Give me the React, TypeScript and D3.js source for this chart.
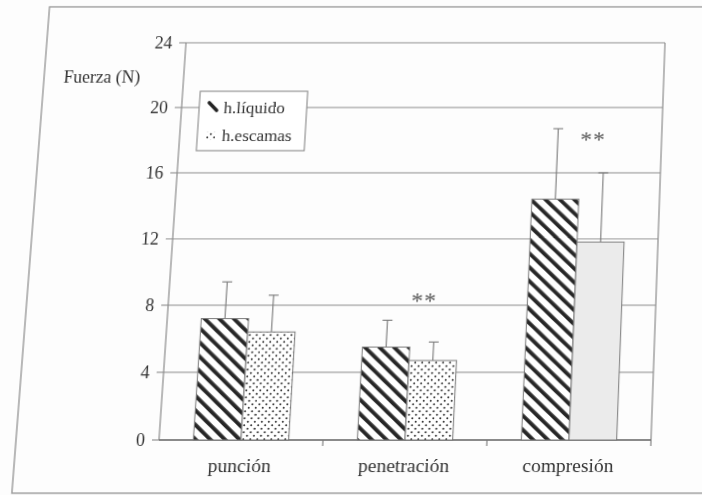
import React from 'react';
import * as d3 from 'd3';

const categories = ['punción', 'penetración', 'compresión'];
const seriesNames = ['h.líquido', 'h.escamas'];
const liquidoValues = [7.2, 5.5, 14.4];
const escamasValues = [6.4, 4.7, 11.8];
const liquidoSD = [2.2, 1.6, 4.3];
const escamasSD = [2.2, 1.1, 4.2];
const yTicks = [0, 4, 8, 12, 16, 20, 24];
const starCategories = ['penetración', 'compresión'];
const starLevels = [7.8, 17.6];
const yLabel = 'Fuerza (N)';

const W = 702;
const H = 495;
const PAD = 20;
const M = { left: 159, right: 651, top: 32, bottom: 440 };

// perspective of the scanned page (vertical lines converge upward)
const g = 6.65e-5;
const t = 0.0516;
const xc = 405;
const yb = 440;
const k = xc * g + t;
const persp = `matrix3d(1,0,0,0, ${-k},${1 - g * yb},0,${-g}, 0,0,1,0, ${yb * k},${g * yb * yb},0,${1 + g * yb})`;

const ink = '#333';
const gridC = '#8a8a8a';

export default function App() {
  const x0 = d3.scaleBand<string>().domain(categories).range([M.left, M.right]).padding(0);
  const x1 = d3
    .scaleBand<string>()
    .domain(seriesNames)
    .range([0, x0.bandwidth()])
    .paddingInner(0)
    .paddingOuter(0.72);
  const y = d3.scaleLinear().domain([0, 24]).range([M.bottom, M.top]);

  const series = [
    { name: seriesNames[0], values: liquidoValues, sd: liquidoSD },
    { name: seriesNames[1], values: escamasValues, sd: escamasSD },
  ];

  const fillFor = (si: number, ci: number) => {
    if (si === 0) return 'url(#hatch)';
    if (ci === 2) return '#ebebeb';
    return 'url(#dots)';
  };

  const boundaries = categories.map((c) => (x0(c) as number) + x0.bandwidth());

  return (
    <div style={{ position: 'absolute', left: 0, top: 0, width: W, height: H, overflow: 'hidden', background: '#fdfdfd' }}>
      <div
        style={{
          position: 'absolute',
          left: 0,
          top: -PAD,
          width: W + 40,
          height: H + PAD + 20,
          transformOrigin: `0px ${PAD}px`,
          transform: persp,
        }}
      >
        <svg
          width={W + 40}
          height={H + PAD + 20}
          style={{ display: 'block' }}
          fontFamily="'Liberation Serif', 'Times New Roman', serif"
        >
          <defs>
            <pattern id="hatch" patternUnits="userSpaceOnUse" width={10} height={10} patternTransform="rotate(-47)">
              <rect x={0} y={0} width={10} height={10} fill="#fff" />
              <rect x={0} y={0} width={3.8} height={10} fill="#262626" />
            </pattern>
            <pattern id="dots" patternUnits="userSpaceOnUse" width={7} height={7}>
              <rect x={0} y={0} width={7} height={7} fill="#fff" />
              <circle cx={1.75} cy={1.75} r={1} fill="#333" />
              <circle cx={5.25} cy={5.25} r={1} fill="#333" />
            </pattern>
          </defs>
          <g transform={`translate(0,${PAD})`}>
            {/* outer page frame */}
            <rect x={16} y={-6} width={730} height={499} fill="none" stroke="#9a9a9a" strokeWidth={1.4} />

            {/* gridlines and y ticks */}
            {yTicks.map((v) => (
              <g key={v}>
                <line x1={M.left} x2={M.right} y1={y(v)} y2={y(v)} stroke={gridC} strokeWidth={1.1} />
                <line x1={M.left - 7} x2={M.left} y1={y(v)} y2={y(v)} stroke={gridC} strokeWidth={1.1} />
                <text x={M.left - 14} y={y(v) + 6} textAnchor="end" fontSize={18} fill={ink}>
                  {v}
                </text>
              </g>
            ))}

            {/* axes */}
            <line x1={M.left} x2={M.left} y1={M.top} y2={M.bottom} stroke={gridC} strokeWidth={1.2} />
            <line x1={M.right} x2={M.right} y1={M.top} y2={M.bottom} stroke={gridC} strokeWidth={1.2} />
            <line x1={M.left} x2={M.right} y1={M.bottom} y2={M.bottom} stroke="#777" strokeWidth={1.3} />
            {boundaries.map((b, i) => (
              <line key={i} x1={b} x2={b} y1={M.bottom} y2={M.bottom + 6} stroke="#777" strokeWidth={1.1} />
            ))}

            {/* bars */}
            {series.map((s, si) =>
              categories.map((c, ci) => {
                const bx = (x0(c) as number) + (x1(s.name) as number);
                const bw = x1.bandwidth();
                const top = y(s.values[ci]);
                const errTop = y(s.values[ci] + s.sd[ci]);
                const cx = bx + bw / 2;
                return (
                  <g key={`${si}-${ci}`}>
                    <line x1={cx} x2={cx} y1={top} y2={errTop} stroke="#777" strokeWidth={1.1} />
                    <line x1={cx - 5} x2={cx + 5} y1={errTop} y2={errTop} stroke="#777" strokeWidth={1.1} />
                    <rect
                      x={bx}
                      y={top}
                      width={bw}
                      height={M.bottom - top}
                      fill={fillFor(si, ci)}
                      stroke="#7a7a7a"
                      strokeWidth={1}
                    />
                  </g>
                );
              })
            )}

            {/* significance marks */}
            {starCategories.map((c, i) => (
              <text
                key={c}
                x={(x0(c) as number) + x0.bandwidth() / 2 + 12}
                y={y(starLevels[i])}
                textAnchor="middle"
                fontSize={24}
                fill="#555"
                letterSpacing={1}
              >
                **
              </text>
            ))}

            {/* category labels */}
            {categories.map((c) => (
              <text
                key={c}
                x={(x0(c) as number) + x0.bandwidth() / 2}
                y={M.bottom + 32}
                textAnchor="middle"
                fontSize={19.5}
                fill={ink}
              >
                {c}
              </text>
            ))}

            {/* y axis title */}
            <text x={36} y={74} fontSize={18} fill={ink}>
              {yLabel}
            </text>

            {/* legend */}
            <g>
              <rect x={177} y={83} width={110} height={62} fill="#fff" stroke="#888" strokeWidth={1.1} />
              <line x1={187} y1={95} x2={195} y2={103} stroke="#222" strokeWidth={3.6} strokeLinecap="round" />
              <text x={202} y={106} fontSize={17.5} fill={ink}>
                {seriesNames[0]}
              </text>
              <rect x={186} y={125} width={9} height={9} fill="url(#dots)" />
              <text x={202} y={135} fontSize={17.5} fill={ink}>
                {seriesNames[1]}
              </text>
            </g>
          </g>
        </svg>
      </div>
    </div>
  );
}
